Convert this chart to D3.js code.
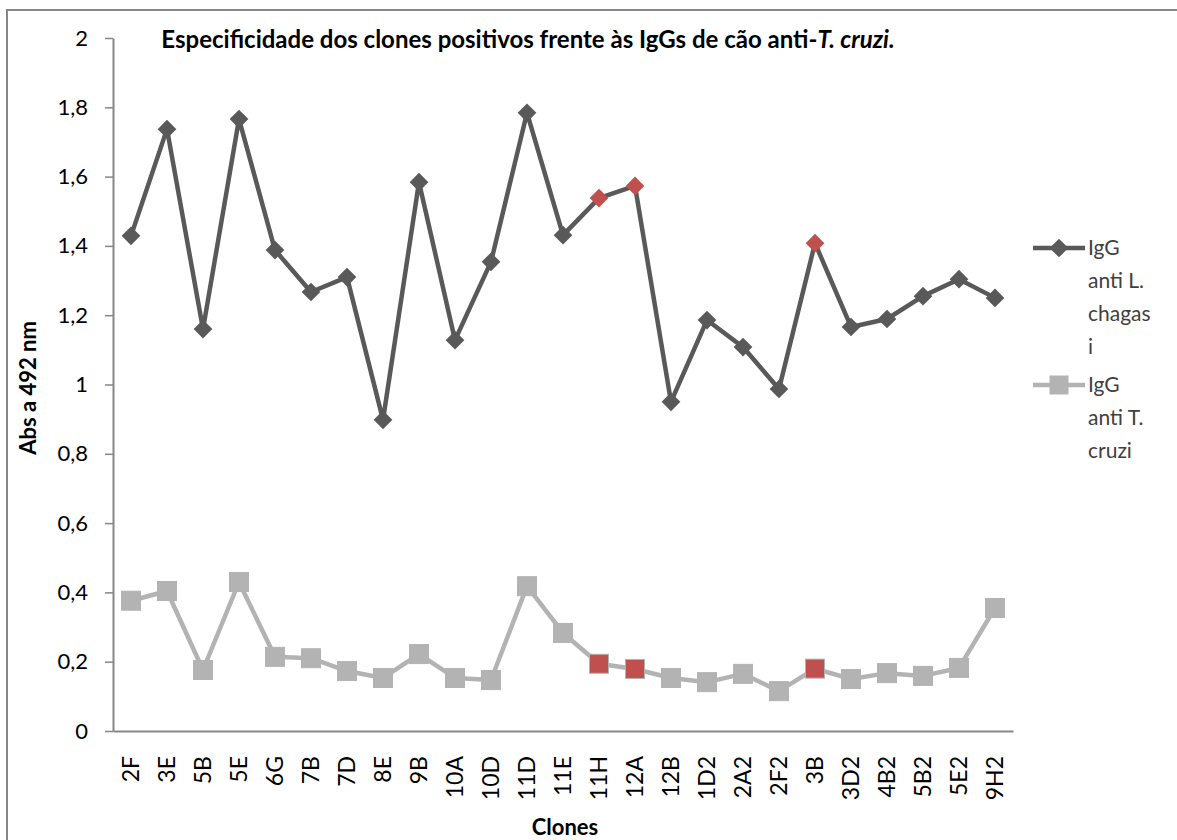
<!DOCTYPE html>
<meta charset="utf-8">
<script src="https://d3js.org/d3.v7.min.js"></script>
<style>
  body { margin: 0; background: #fff; }
  text { font-family: Lato, "Open Sans", sans-serif; }
</style>
<div id="chart"></div>
<script>
  // data
  var clones = ["2F", "3E", "5B", "5E", "6G", "7B", "7D", "8E", "9B", "10A", "10D", "11D", "11E",
    "11H", "12A", "12B", "1D2", "2A2", "2F2", "3B", "3D2", "4B2", "5B2", "5E2", "9H2"];
  var antiLchagasi = [1.429, 1.737, 1.160, 1.766, 1.388, 1.267, 1.310, 0.898, 1.584, 1.128, 1.354, 1.784, 1.431,
    1.538, 1.573, 0.950, 1.186, 1.108, 0.987, 1.408, 1.166, 1.189, 1.255, 1.304, 1.250];
  var antiTcruzi = [0.376, 0.404, 0.176, 0.430, 0.214, 0.210, 0.173, 0.153, 0.222, 0.153, 0.147, 0.418, 0.283,
    0.194, 0.179, 0.153, 0.141, 0.165, 0.115, 0.180, 0.150, 0.167, 0.159, 0.182, 0.355];
  var highlighted = ["11H", "12A", "3B"];
  var yTicks = [0, 0.2, 0.4, 0.6, 0.8, 1, 1.2, 1.4, 1.6, 1.8, 2];
  var legendLabels = [["IgG", "anti L.", "chagas", "i"], ["IgG", "anti T.", "cruzi"]];

  var W = 1177, H = 840;
  var dark = "#595959", light = "#b3b3b3", red = "#c0504d", axisCol = "#868686";

  var svg = d3.select("#chart").append("svg")
    .attr("width", W)
    .attr("height", H);

  // chart frame
  svg.append("rect")
    .attr("x", 7).attr("y", 10)
    .attr("width", W + 20).attr("height", H + 20)
    .attr("fill", "none")
    .attr("stroke", axisCol)
    .attr("stroke-width", 2);

  var x = d3.scaleBand().domain(clones).range([113, 1013]);
  var y = d3.scaleLinear().domain([0, 2]).range([731, 38]);
  var cx = function (d) { return x(d) + x.bandwidth() / 2; };

  // y axis
  var yAxis = svg.append("g")
    .attr("transform", "translate(113,0)")
    .call(d3.axisLeft(y).tickValues(yTicks).tickSize(8).tickSizeOuter(0)
      .tickFormat(function (d) { return String(d).replace(".", ","); }));
  yAxis.select(".domain").attr("stroke", axisCol).attr("stroke-width", 2);
  yAxis.selectAll(".tick line").attr("stroke", axisCol).attr("stroke-width", 1.5);
  yAxis.selectAll(".tick text")
    .attr("x", -25)
    .attr("font-size", "22px")
    .attr("font-family", "Lato, sans-serif")
    .attr("fill", "#000");

  // x axis
  var xAxis = svg.append("g")
    .attr("transform", "translate(0,731)")
    .call(d3.axisBottom(x).tickSize(0).tickSizeOuter(0));
  xAxis.select(".domain").attr("stroke", axisCol).attr("stroke-width", 2);
  xAxis.selectAll(".tick text")
    .attr("transform", "rotate(-90)")
    .attr("text-anchor", "end")
    .attr("x", -25)
    .attr("y", 0)
    .attr("dy", "0.35em")
    .attr("font-size", "23px")
    .attr("font-family", "Lato, sans-serif")
    .attr("fill", "#000");

  // lines
  var line = d3.line()
    .x(function (d) { return cx(d[0]); })
    .y(function (d) { return y(d[1]); });

  svg.append("path")
    .datum(d3.zip(clones, antiTcruzi))
    .attr("d", line)
    .attr("fill", "none")
    .attr("stroke", light)
    .attr("stroke-width", 4.5)
    .attr("stroke-linejoin", "round");

  svg.append("path")
    .datum(d3.zip(clones, antiLchagasi))
    .attr("d", line)
    .attr("fill", "none")
    .attr("stroke", dark)
    .attr("stroke-width", 4.5)
    .attr("stroke-linejoin", "round");

  // square markers
  svg.selectAll("rect.sq")
    .data(d3.zip(clones, antiTcruzi))
    .enter()
    .append("rect")
    .attr("class", "sq")
    .attr("x", function (d) { return cx(d[0]) - 9.5; })
    .attr("y", function (d) { return y(d[1]) - 9.5; })
    .attr("width", 19)
    .attr("height", 19)
    .attr("fill", function (d) { return highlighted.includes(d[0]) ? red : light; })
    .attr("stroke", light)
    .attr("stroke-width", 1);

  // diamond markers
  var diamond = d3.symbol().type(d3.symbolSquare).size(175);
  svg.selectAll("path.dm")
    .data(d3.zip(clones, antiLchagasi))
    .enter()
    .append("path")
    .attr("class", "dm")
    .attr("d", diamond)
    .attr("transform", function (d) { return "translate(" + cx(d[0]) + "," + y(d[1]) + ") rotate(45)"; })
    .attr("fill", function (d) { return highlighted.includes(d[0]) ? red : dark; });

  // title
  var title = svg.append("text")
    .attr("x", 528)
    .attr("y", 48)
    .attr("text-anchor", "middle")
    .attr("font-size", "24px")
    .attr("font-weight", "bold");
  title.append("tspan").text("Especificidade dos clones positivos frente às IgGs de cão anti-");
  title.append("tspan").attr("font-style", "italic").text("T. cruzi.");

  // axis titles
  svg.append("text")
    .attr("transform", "translate(28,388) rotate(-90)")
    .attr("text-anchor", "middle")
    .attr("dy", "0.35em")
    .attr("font-size", "22px")
    .attr("font-weight", "bold")
    .text("Abs a 492 nm");

  svg.append("text")
    .attr("x", 565)
    .attr("y", 835)
    .attr("text-anchor", "middle")
    .attr("font-size", "22px")
    .attr("font-weight", "bold")
    .text("Clones");

  // legend
  var legendY = [248, 385];
  var lg = svg.append("g");
  lg.selectAll("line")
    .data([dark, light])
    .enter()
    .append("line")
    .attr("x1", 1033).attr("x2", 1085)
    .attr("y1", function (d, i) { return legendY[i]; })
    .attr("y2", function (d, i) { return legendY[i]; })
    .attr("stroke", function (d) { return d; })
    .attr("stroke-width", 4.5);
  lg.append("path")
    .attr("d", diamond)
    .attr("transform", "translate(1059," + legendY[0] + ") rotate(45)")
    .attr("fill", dark);
  lg.append("rect")
    .attr("x", 1059 - 9.5).attr("y", legendY[1] - 9.5)
    .attr("width", 19).attr("height", 19)
    .attr("fill", light);
  legendLabels.forEach(function (lines, i) {
    lg.selectAll("text.l" + i)
      .data(lines)
      .enter()
      .append("text")
      .attr("class", "l" + i)
      .attr("x", 1088)
      .attr("y", function (d, j) { return legendY[i] + j * 33; })
      .attr("dy", "0.35em")
      .attr("font-size", "21px")
      .attr("fill", "#404040")
      .text(function (d) { return d; });
  });
</script>
